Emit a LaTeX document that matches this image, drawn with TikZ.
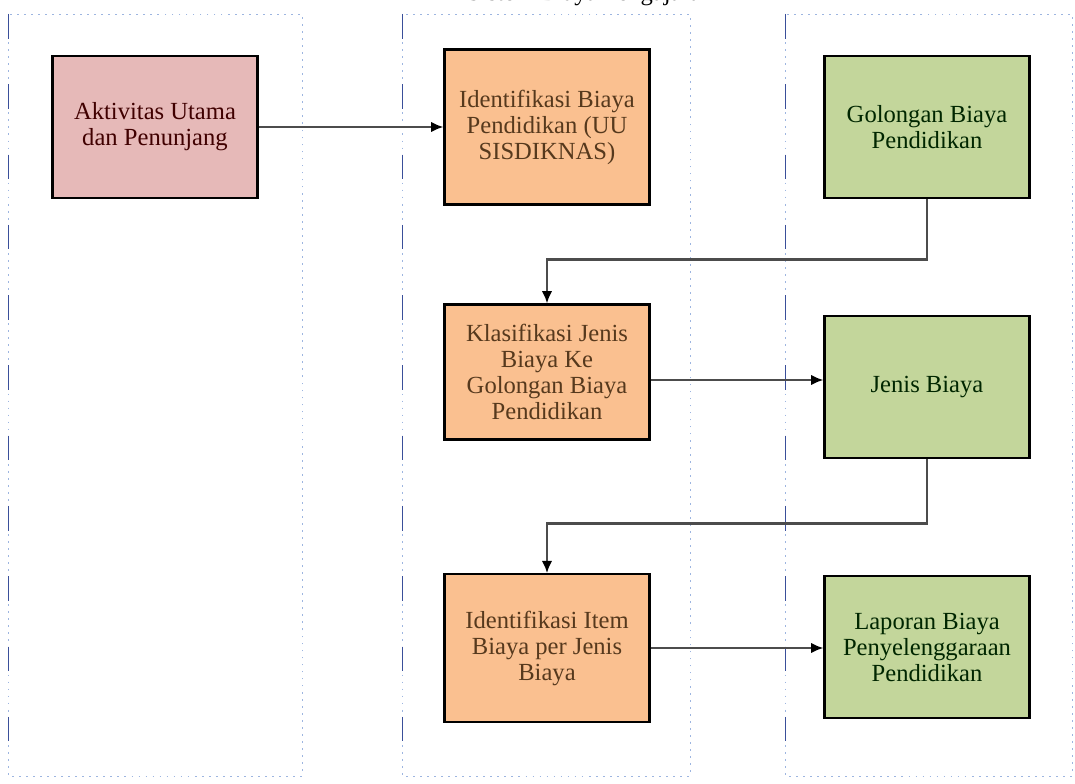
\documentclass[tikz,border=0pt]{standalone}
\usepackage{fontspec}
\setmainfont{Liberation Serif}
\usetikzlibrary{positioning}
\usetikzlibrary{arrows.meta}

\definecolor{merah}{HTML}{E6B9B8}
\definecolor{jingga}{HTML}{FAC090}
\definecolor{hijau}{HTML}{C3D69B}
\definecolor{garis}{HTML}{9DB5E0}
\definecolor{garistua}{HTML}{3A4F9A}

\begin{document}
\begin{tikzpicture}[x=0.02cm,y=-0.02cm,
        kotak/.style={draw=black,line width=1.2pt,minimum width=4.1cm,minimum height=2.85cm,
          align=center,font=\fontsize{14}{14.8}\selectfont},
        panah/.style={-{Latex[length=7pt,width=6pt,color=black]},line width=1.5pt,draw=black!70},
        lajur/.style={draw=garis,line width=0.5pt,dash pattern=on 1pt off 3pt}]
        \useasboundingbox (0,0) rectangle (1075,784);

        % lajur
        \draw[lajur] (8,14) rectangle (302,776);
        \draw[lajur] (402,14) rectangle (690,776);
        \draw[lajur] (785,14) rectangle (1072,776);
        \foreach \xl in {8,402,785}
          \draw[garistua,line width=0.5pt,dash pattern=on 14pt off 26pt] (\xl,14) -- (\xl,776);
        \node[anchor=base,font=\fontsize{14}{15}\selectfont] (judul) at (590,0.5) {Sistem Biaya Pengajaran};

        % kotak
        \node[kotak,fill=merah,text=red!25!black] (akt) at (155,127) {Aktivitas Utama\\dan Penunjang};
        \node[kotak,fill=jingga,text=brown!45!black,minimum height=3.1cm] (idb) at (547,127) {Identifikasi Biaya\\Pendidikan (UU\\SISDIKNAS)};
        \node[kotak,fill=hijau,text=green!15!black] (gol) at (927,127) {Golongan Biaya\\Pendidikan};
        \node[kotak,fill=jingga,text=brown!45!black,minimum height=2.7cm] (kls) at (547,372) {Klasifikasi Jenis\\Biaya Ke\\Golongan Biaya\\Pendidikan};
        \node[kotak,fill=hijau,text=green!15!black] (jns) at (927,387) {Jenis Biaya};
        \node[kotak,fill=jingga,text=brown!45!black,minimum height=2.95cm] (itm) at (547,648) {Identifikasi Item\\Biaya per Jenis\\Biaya};
        \node[kotak,fill=hijau,text=green!15!black] (lap) at (927,647) {Laporan Biaya\\Penyelenggaraan\\Pendidikan};

        % panah
        \draw[panah] (akt) -- (idb);
        \draw[panah] (gol.south) -- ++(0,60) -| (kls.north);
        \draw[panah] (kls.east |- 0,380) -- (jns.west |- 0,380);
        \draw[panah] (jns.south) -- ++(0,64) -| (itm.north);
        \draw[panah] (itm.east) -- (lap.west |- itm.east);
\end{tikzpicture}
\end{document}
